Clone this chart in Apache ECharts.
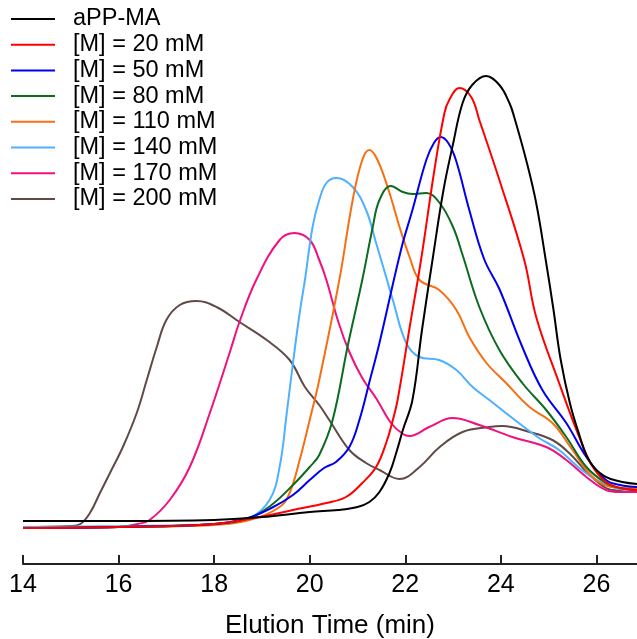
<!DOCTYPE html>
<html><head><meta charset="utf-8">
<script src="https://cdn.jsdelivr.net/npm/echarts@6/dist/echarts.min.js"></script>
<style>html,body{margin:0;padding:0;background:#fff}#c{width:637px;height:639px}</style>
</head><body><div id="c"></div>
<script>
// Elution time (min) vs detector intensity (arbitrary units)
const seriesNames = ['aPP-MA','[M] = 20 mM','[M] = 50 mM','[M] = 80 mM','[M] = 110 mM','[M] = 140 mM','[M] = 170 mM','[M] = 200 mM'];
const xTicks = [14,16,18,20,22,24,26];

const aPPMA = [[14,43],[16,43],[18,44],[19,47],[20,52],[20.6,54],[21,57],[21.25,62],[21.46,72],[21.67,91],[21.81,111],[21.95,134],[22.15,164],[22.35,234],[22.57,304],[22.8,374],[23,420],[23.2,461],[23.4,479],[23.69,488],[23.97,479],[24.18,461],[24.28,447],[24.53,404],[24.74,361],[24.94,304],[25.1,255],[25.25,205],[25.45,160],[25.65,128],[25.8,108],[26,94],[26.3,85],[26.85,80]];
const m20 = [[14,36],[16,37],[18,40],[18.95,47],[19.65,54],[20.35,61],[20.76,67],[21.1,81],[21.39,97],[21.6,121],[21.74,144],[21.84,164],[22.1,239],[22.33,304],[22.61,394],[22.82,451],[22.92,464],[23.13,476],[23.38,467],[23.55,444],[23.97,384],[24.49,304],[24.74,247],[25.22,181],[25.64,127],[25.9,99],[26.2,82],[26.5,76],[26.85,74]];
const m50 = [[14,36],[16,37],[18,40],[18.7,46],[19.2,56],[19.65,69],[20,84],[20.3,96],[20.55,102],[20.83,117],[21.04,144],[21.25,182],[21.46,221],[21.91,314],[22.15,354],[22.44,404],[22.6,421],[22.74,427],[22.9,421],[23.06,404],[23.34,354],[23.65,305],[23.97,275],[24.45,217],[24.87,174],[25.37,141],[25.79,107],[26.2,84],[26.5,79],[26.85,77]];
const m80 = [[14,36],[16,37],[18,40],[18.74,46],[19.2,59],[19.65,79],[20,97],[20.2,109],[20.48,144],[20.8,219],[21.1,284],[21.32,337],[21.46,364],[21.7,378],[21.95,372],[22.15,370],[22.44,371],[22.72,361],[23,337],[23.2,309],[23.55,257],[23.97,214],[24.45,181],[24.95,154],[25.37,127],[25.79,97],[26.2,81],[26.5,76],[26.85,74]];
const m110 = [[14,36],[16,37],[18,39],[18.74,44],[19.37,57],[19.58,71],[19.79,104],[20,144],[20.2,184],[20.62,284],[20.9,364],[21.1,404],[21.25,414],[21.42,404],[21.67,371],[21.88,337],[22.09,307],[22.3,284],[22.71,274],[23.07,254],[23.34,227],[23.7,201],[24.11,181],[24.6,157],[25.08,141],[25.5,114],[25.92,87],[26.33,77],[26.85,76]];
const m140 = [[14,37],[16,38],[18,40],[18.74,46],[19.16,64],[19.37,97],[19.52,151],[19.65,201],[19.79,251],[19.9,284],[20.06,337],[20.2,364],[20.35,381],[20.56,386],[20.9,377],[21.18,354],[21.39,321],[21.6,287],[21.74,264],[22.02,221],[22.3,207],[22.71,204],[23.07,194],[23.41,177],[23.76,164],[24.24,146],[24.8,126],[25.22,114],[25.64,96],[26,84],[26.4,76],[26.85,74]];
const m170 = [[14,36],[16,37],[16.4,40],[16.65,44],[17.07,64],[17.49,97],[17.91,151],[18.33,212],[18.53,242],[18.88,284],[19.37,324],[19.68,331],[20,324],[20.2,304],[20.35,284],[20.6,242],[20.83,212],[21.1,186],[21.4,165],[21.7,141],[21.95,130],[22.09,128],[22.5,137],[22.99,146],[23.55,139],[24.24,127],[24.95,117],[25.37,104],[25.79,87],[26.2,74],[26.5,72],[26.85,72]];
const m200 = [[14,37],[15,38],[15.2,40],[15.4,51],[15.61,71],[15.82,91],[16.09,117],[16.38,151],[16.59,184],[16.8,217],[17,244],[17.28,259],[17.63,263],[18.05,257],[18.53,242],[19.1,224],[19.58,204],[19.9,177],[20.2,159],[20.41,144],[20.83,114],[21.18,101],[21.46,94],[21.88,85],[22.3,97],[22.72,117],[23.2,132],[23.76,137],[24.03,138],[24.6,132],[25.08,124],[25.43,111],[25.8,92],[26.2,76],[26.5,73],[26.85,72]];

const allData = [aPPMA, m20, m50, m80, m110, m140, m170, m200];
const colors = ['#000000','#ff0000','#0000ee','#0b6b1e','#f76f12','#4fb0ff','#f0117f','#5f4a45'];
const font = 'Liberation Sans, Arial, sans-serif';

const chart = echarts.init(document.getElementById('c'), null, {renderer:'canvas'});
chart.setOption({
  animation:false,
  backgroundColor:'#fff',
  color: colors,
  grid:{left:23, right:0, top:0, bottom:75, containLabel:false, outerBoundsMode:'none'},
  legend:{
    orient:'vertical', left:11, top:7, padding:0,
    itemWidth:44, itemHeight:2, icon:'rect', itemGap:1.7,
    textStyle:{fontFamily:font, fontSize:23.5, lineHeight:23, color:'#000', padding:[0,0,0,13]},
    data: seriesNames
  },
  xAxis:{
    type:'value', min:14, max:26.85, interval:2,
    axisLine:{show:true, lineStyle:{color:'#222', width:2}},
    axisTick:{show:true, inside:true, length:9, lineStyle:{color:'#222', width:2}},
    splitLine:{show:false},
    axisLabel:{showMaxLabel:false, margin:9, fontFamily:font, fontSize:25, color:'#000',
      formatter: v => xTicks.includes(v) ? String(v) : ''},
    name:'Elution Time (min)', nameLocation:'middle', nameGap:49,
    nameTextStyle:{fontFamily:font, fontSize:26, color:'#000'}
  },
  yAxis:{type:'value', min:0, max:564, show:false, splitLine:{show:false}},
  series: allData.map((d,i)=>({
    name: seriesNames[i], type:'line', data:d, smooth:0.4, showSymbol:false,
    lineStyle:{width:2, color:colors[i]}, itemStyle:{color:colors[i]}, z: 10 - i
  }))
});
</script></body></html>
